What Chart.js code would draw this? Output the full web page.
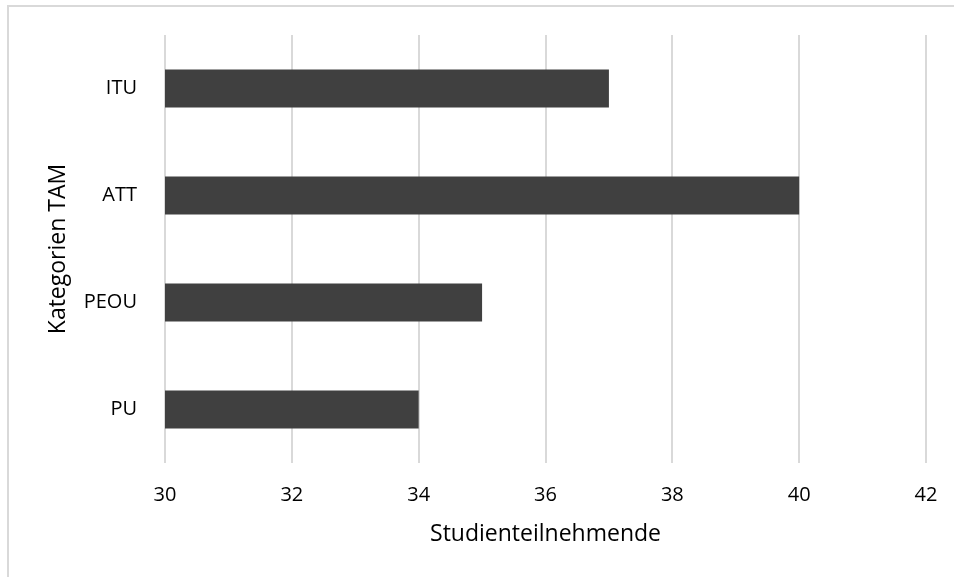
<!DOCTYPE html>
<html>
<head>
<meta charset="utf-8">
<script src="https://cdn.jsdelivr.net/npm/chart.js@4"></script>
<style>
  html, body { margin: 0; padding: 0; background: #ffffff; overflow: hidden; }
  #frame {
    position: absolute; left: 7px; top: 5px; width: 1000px; height: 1000px;
    border-top: 2px solid #d9d9d9; border-left: 2px solid #d9d9d9; box-sizing: border-box;
  }
  #wrap { position: absolute; left: 0; top: 0; width: 954px; height: 577px; }
</style>
</head>
<body>
<div id="frame"></div>
<div id="wrap"><canvas id="chart"></canvas></div>
<script>
// TAM categories, bottom to top
const categories = ['PU', 'PEOU', 'ATT', 'ITU'];
const participants = [34, 35, 40, 37];
const xTicks = [30, 32, 34, 36, 38, 40, 42];

const FONT = '"Open Sans", "Liberation Sans", sans-serif';

new Chart(document.getElementById('chart'), {
  type: 'bar',
  data: {
    labels: categories,
    datasets: [{
      data: participants,
      backgroundColor: '#404040',
      borderWidth: 0,
      categoryPercentage: 1,
      barPercentage: 0.355
    }]
  },
  options: {
    indexAxis: 'y',
    responsive: true,
    maintainAspectRatio: false,
    animation: false,
    layout: { padding: { left: 0, top: 35, right: 28, bottom: 0 } },
    plugins: { legend: { display: false }, tooltip: { enabled: false } },
    scales: {
      x: {
        type: 'linear',
        min: xTicks[0],
        max: xTicks[xTicks.length - 1],
        afterBuildTicks: (scale) => { scale.ticks = xTicks.map(v => ({ value: v })); },
        afterFit: (scale) => {
          // fixed axis band; tick labels may overhang the plot edges
          scale.height = 114;
          scale.paddingLeft = 0;
          scale.paddingRight = 0;
        },
        grid: { color: '#d9d9d9', lineWidth: 2, drawTicks: false },
        border: { display: false },
        ticks: { color: '#000000', padding: 20, font: { family: FONT, size: 20 } },
        title: {
          display: true,
          text: 'Studienteilnehmende',
          color: '#000000',
          font: { family: FONT, size: 23 },
          padding: { top: 0, bottom: 29 }
        }
      },
      y: {
        type: 'category',
        reverse: true,
        afterFit: (scale) => {
          scale.width = 165;
          scale.paddingTop = 0;
          scale.paddingBottom = 0;
        },
        grid: { display: false, drawTicks: false },
        border: { display: false },
        ticks: { color: '#000000', padding: 28, font: { family: FONT, size: 20 } },
        title: {
          display: true,
          text: 'Kategorien TAM',
          color: '#000000',
          font: { family: FONT, size: 23 },
          padding: { top: 45, bottom: 0 }
        }
      }
    }
  }
});
</script>
</body>
</html>
